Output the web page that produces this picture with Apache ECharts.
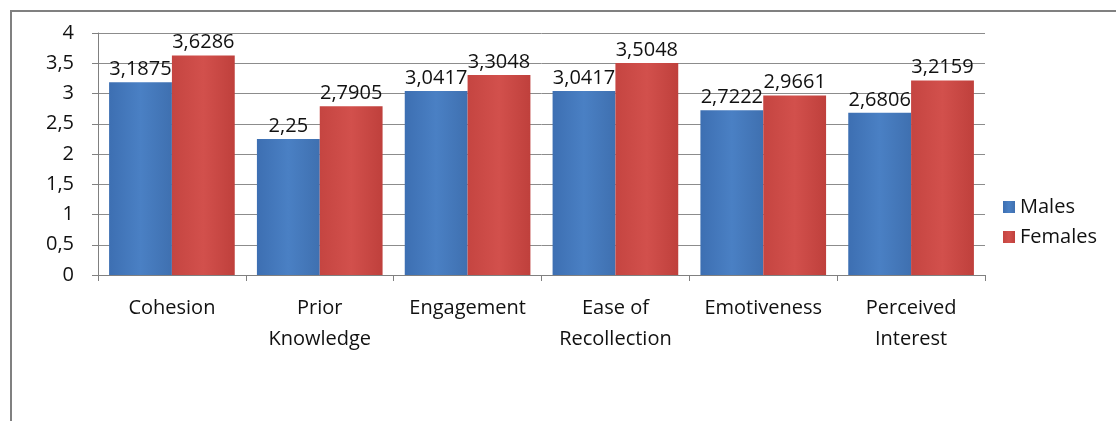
<!DOCTYPE html>
<html><head><meta charset="utf-8">
<script src="https://cdn.jsdelivr.net/npm/echarts@6/dist/echarts.min.js"></script>
<style>html,body{margin:0;padding:0;background:#fff}#c{width:1116px;height:421px}</style>
</head><body><div id="c"></div>
<script>
var categories = ['Cohesion', 'Prior\nKnowledge', 'Engagement', 'Ease of\nRecollection', 'Emotiveness', 'Perceived\nInterest'];
var males = [3.1875, 2.25, 3.0417, 3.0417, 2.7222, 2.6806];
var females = [3.6286, 2.7905, 3.3048, 3.5048, 2.9661, 3.2159];
var yTicks = [0, 0.5, 1, 1.5, 2, 2.5, 3, 3.5, 4];

var FONT = '"Open Sans", Lato, sans-serif';
function fmt(v){ return String(v).replace('.', ','); }
function grad(a, b, c){
  return new echarts.graphic.LinearGradient(0, 0, 1, 0, [
    {offset: 0, color: a}, {offset: 0.5, color: b}, {offset: 1, color: c}]);
}
var chart = echarts.init(document.getElementById('c'), null, {renderer: 'canvas'});
var labelCfg = {show: true, position: 'top', distance: 3, color: '#111', fontFamily: FONT, fontSize: 20,
  formatter: function(p){ return fmt(p.value); }};
chart.setOption({
  animation: false,
  backgroundColor: '#fff',
  graphic: [{type: 'rect', shape: {x: 11, y: 11, width: 1200, height: 600},
    style: {fill: 'none', stroke: '#808080', lineWidth: 2}, z: -1}],
  grid: {left: 98, right: 131, top: 33, bottom: 146},
  legend: {orient: 'vertical', left: 998, top: 192, itemWidth: 12, itemHeight: 12, itemGap: 10,
    icon: 'rect', textStyle: {fontFamily: FONT, fontSize: 20, color: '#111'},
    data: ['Males', 'Females']},
  xAxis: {type: 'category', data: categories,
    axisLine: {lineStyle: {color: '#808080'}},
    axisTick: {show: true, length: 6, lineStyle: {color: '#808080'}},
    axisLabel: {fontFamily: FONT, fontSize: 20, color: '#111', lineHeight: 31, margin: 18, interval: 0}},
  yAxis: {type: 'value', min: 0, max: 4, interval: 0.5,
    axisLine: {show: true, lineStyle: {color: '#808080'}},
    axisTick: {show: true, length: 6, lineStyle: {color: '#808080'}},
    splitLine: {lineStyle: {color: '#8c8c8c'}},
    axisLabel: {fontFamily: FONT, fontSize: 20, color: '#111', margin: 24,
      formatter: function(v){ return fmt(v); }}},
  series: [
    {name: 'Males', type: 'bar', data: males, barGap: '0%', barCategoryGap: '15%',
      itemStyle: {color: grad('#3d6fb2', '#4a80c4', '#3f70b0')}, label: labelCfg},
    {name: 'Females', type: 'bar', data: females,
      itemStyle: {color: grad('#c54541', '#d2504c', '#bf403c')}, label: labelCfg}
  ]
});
</script></body></html>
